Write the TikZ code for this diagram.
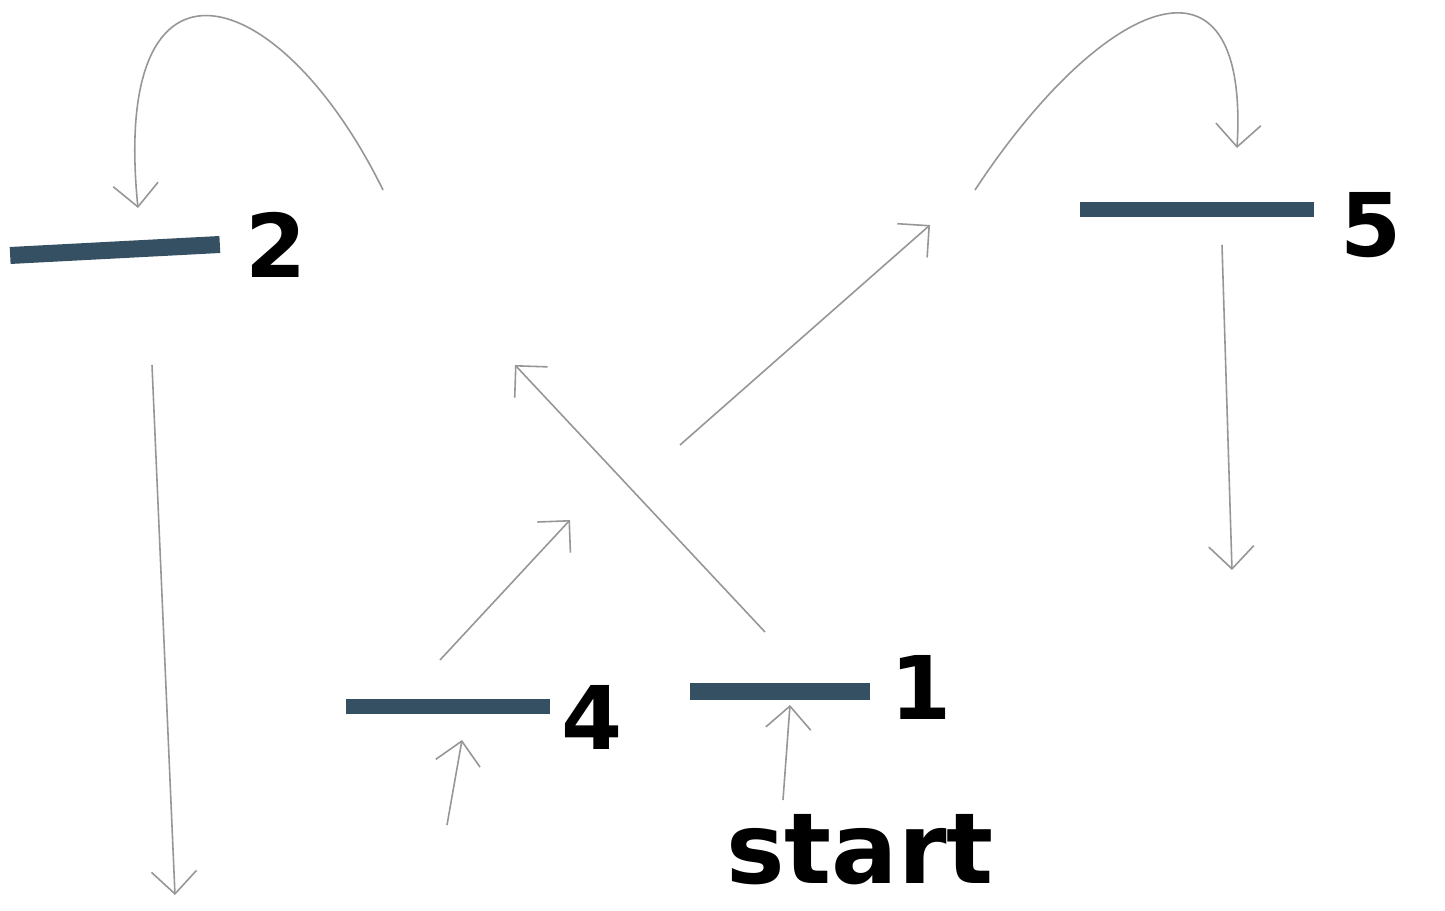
\documentclass[tikz,border=0pt]{standalone}
\usepackage{fontspec}
\setsansfont{DejaVu Sans}
\usetikzlibrary{arrows.meta,positioning}
\definecolor{barSlate}{RGB}{52,80,98}
\definecolor{sketchGray}{RGB}{150,150,150}
\tikzset{
  bar node/.style={fill=barSlate,minimum height=3.4mm,inner sep=0pt},
  digit/.style={font=\sffamily\bfseries\fontsize{50}{50}\selectfont,inner sep=0pt,text=black},
  start label/.style={font=\sffamily\bfseries\fontsize{56}{56}\selectfont,inner sep=0pt,text=black},
  sketch arrow/.style={-{Straight Barb[length=4.5mm,width=9mm]},line width=0.9pt,draw=sketchGray}
}
\begin{document}
\begin{tikzpicture}[x=0.02cm,y=-0.02cm]
  \useasboundingbox[fill=white] (0,0) rectangle (1445,911);
  % bars
  \node[bar node,minimum width=4.2cm,rotate=3] (bar2) at (115,250) {};
  \node[bar node,minimum width=4.7cm,minimum height=3mm] (bar5) at (1197,210) {};
  \node[bar node,minimum width=4.1cm,minimum height=3mm] (bar4) at (448,707) {};
  \node[bar node,minimum width=3.6cm] (bar1) at (780,692) {};
  % labels
  \node[digit,right=5mm of bar2] (lab2) {2};
  \node[digit,right=5mm of bar5,yshift=-3mm] (lab5) {5};
  \node[digit,right=2mm of bar4,yshift=-2mm] (lab4) {4};
  \node[digit,right=4mm of bar1,yshift=1mm] (lab1) {1};
  \node[start label] (start) at (860,850) {start};
  % free ends
  \coordinate (loop2 out) at (383,190);
  \coordinate (loop2 in) at (138,208);
  \coordinate (loop5 out) at (975,190);
  \coordinate (loop5 in) at (1237,148);
  \coordinate (down2 out) at (152,365);
  \coordinate (down2 in) at (175,895);
  \coordinate (down5 out) at (1222,245);
  \coordinate (down5 in) at (1232,570);
  \coordinate (up4 out) at (440,660);
  \coordinate (up4 in) at (570,520);
  \coordinate (up1 out) at (765,632);
  \coordinate (up1 in) at (515,365);
  \coordinate (mid out) at (680,445);
  \coordinate (mid in) at (930,225);
  \coordinate (into4 out) at (447,825);
  \coordinate (into4 in) at (462,740);
  \coordinate (into1 out) at (783,800);
  \coordinate (into1 in) at (790,705);
  % connectors
  \draw[sketch arrow] (loop2 out) .. controls (280,-20) and (110,-70) .. (loop2 in);
  \draw[sketch arrow] (loop5 out) .. controls (1100,0) and (1250,-70) .. (loop5 in);
  \draw[sketch arrow] (down2 out) -- (down2 in);
  \draw[sketch arrow] (down5 out) -- (down5 in);
  \draw[sketch arrow] (up4 out) -- (up4 in);
  \draw[sketch arrow] (up1 out) -- (up1 in);
  \draw[sketch arrow] (mid out) -- (mid in);
  \draw[sketch arrow] (into4 out) -- (into4 in);
  \draw[sketch arrow] (into1 out) -- (into1 in);
\end{tikzpicture}
\end{document}
